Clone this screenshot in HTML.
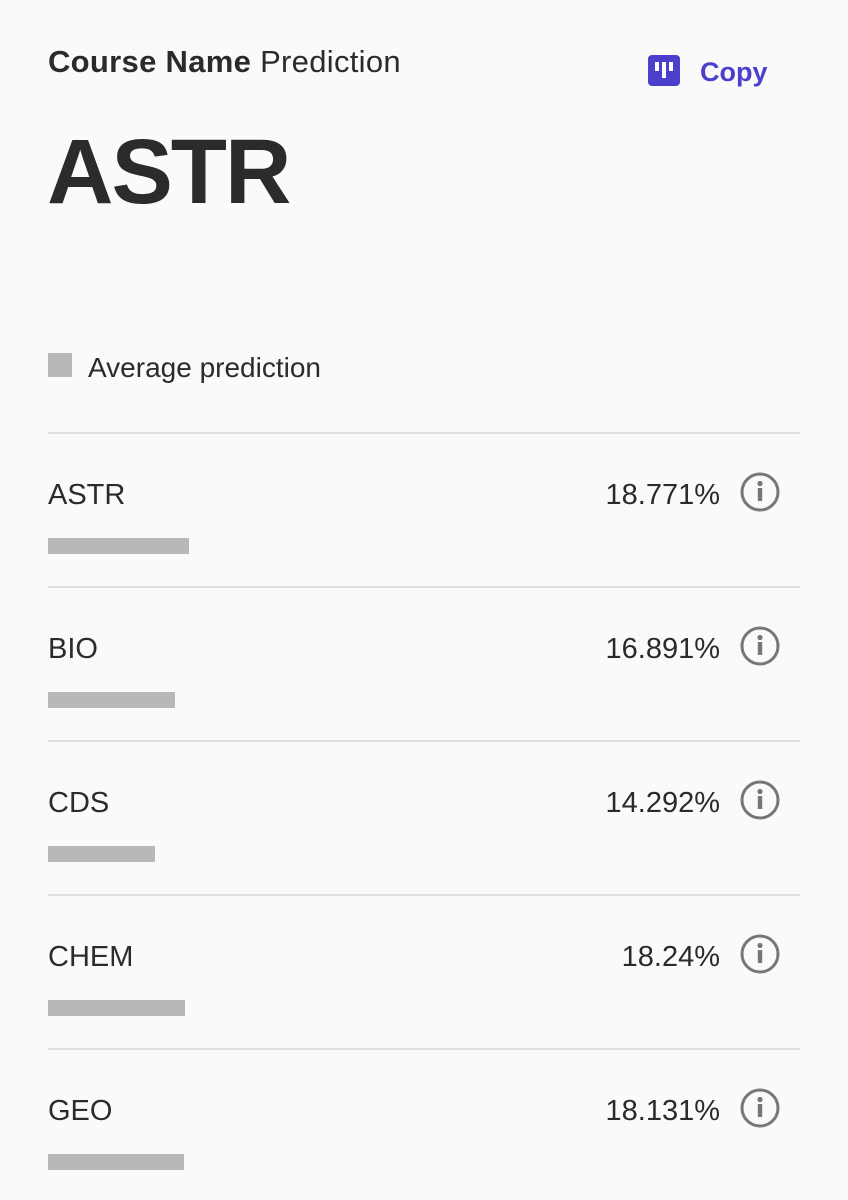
<!DOCTYPE html>
<html><head><meta charset="utf-8"><style>
body{margin:0;background:#fafafa;font-family:"Liberation Sans",sans-serif;color:#2b2b2b;}
#root{position:relative;width:848px;height:1200px;overflow:hidden;}
.abs{position:absolute;}
.row-label{position:absolute;left:48px;font-size:29px;line-height:1;}
.row-value{position:absolute;right:128px;font-size:29px;line-height:1;text-align:right;}
.sep{position:absolute;left:48px;width:752px;height:2px;background:#e0e0e0;}
.bar{position:absolute;left:48px;height:16px;background:#b8b8b8;}
</style></head><body>
<div id="root">
  <div class="abs" style="left:48px;top:44px;font-size:31px;letter-spacing:0.3px;"><b>Course Name</b> Prediction</div>
  <div class="abs" style="left:648px;top:55px;cursor:pointer;">
    <svg width="32" height="31"><rect width="32" height="31" rx="4" fill="#4b3fcc"/><rect x="7" y="7" width="4" height="9" fill="#fff"/><rect x="14" y="7" width="4" height="16" fill="#fff"/><rect x="21" y="7" width="4" height="9" fill="#fff"/></svg>
    <span class="abs" style="left:52px;top:2px;font-size:27px;font-weight:bold;color:#4b3fcc;white-space:nowrap;">Copy</span>
  </div>
  <div class="abs" style="left:47px;top:122px;font-size:92px;font-weight:bold;line-height:1.1;letter-spacing:-2px;">ASTR</div>
  <div class="abs" style="left:48px;top:353px;width:24px;height:24px;background:#b8b8b8;"></div>
  <div class="abs" style="left:88px;top:352px;font-size:28px;">Average prediction</div>
  <div id="rows"></div>
</div>
<script>
const categories=["ASTR","BIO","CDS","CHEM","GEO"];
const values=[18.771,16.891,14.292,18.24,18.131];
const labels=["18.771%","16.891%","14.292%","18.24%","18.131%"];
const root=document.getElementById('root');
function xScale(v){return v/100*752;}
categories.forEach((c,i)=>{
  const top=432+i*154;
  const sep=document.createElement('div');sep.className='sep';sep.style.top=top+'px';
  
  
  root.appendChild(sep);
  const l=document.createElement('div');l.className='row-label';l.style.top=(top+49)+'px';l.textContent=c;
  
  
  root.appendChild(l);
  const v=document.createElement('div');v.className='row-value';v.style.top=(top+49)+'px';v.textContent=labels[i];
  
  
  root.appendChild(v);
  const ic=document.createElementNS('http://www.w3.org/2000/svg','svg');
  ic.setAttribute('width','42');ic.setAttribute('height','42');
  ic.style.position='absolute';ic.style.left='739px';ic.style.top=(top+39)+'px';
  ic.innerHTML='<circle cx="21" cy="21" r="18" fill="none" stroke="#777" stroke-width="3"/><circle cx="21" cy="12.5" r="2.6" fill="#777"/><rect x="18.8" y="17" width="4.4" height="13" fill="#777"/>';
  
  
  root.appendChild(ic);
  const b=document.createElement('div');b.className='bar';b.style.top=(top+106)+'px';b.style.width=xScale(values[i])+'px';
  
  
  root.appendChild(b);
});
</script>
</body></html>
